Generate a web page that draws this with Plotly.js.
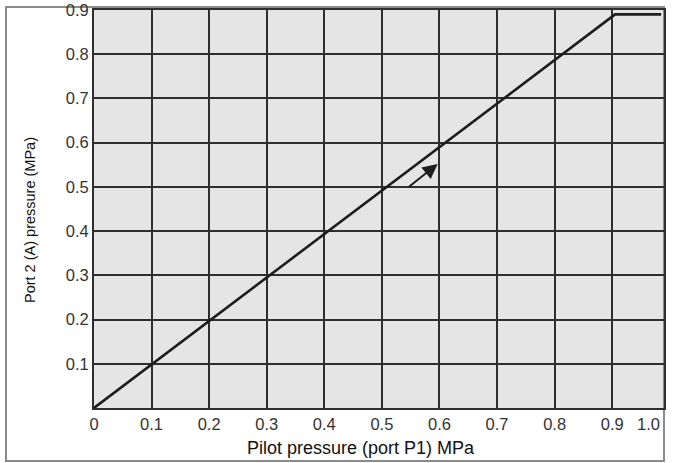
<!DOCTYPE html>
<html>
<head>
<meta charset="utf-8">
<script src="https://cdn.plot.ly/plotly-3.0.1.min.js"></script>
<style>html,body{margin:0;padding:0;background:#fff;}#chart{width:675px;height:463px;}</style>
</head>
<body>
<div id="chart"></div>
<script>
// Data
const pilotPressure = [0, 0.905, 0.985];      // MPa (port P1)
const port2Pressure = [0, 0.89, 0.89];        // MPa (port 2, A)
const arrowTail = [0.544, 0.497];
const arrowHead = [0.597, 0.552];
const xTickVals = [0, 0.1, 0.2, 0.3, 0.4, 0.5, 0.6, 0.7, 0.8, 0.9];
const xTickText = ['0', '0.1', '0.2', '0.3', '0.4', '0.5', '0.6', '0.7', '0.8', '0.9'];
const xEndLabel = '1.0';
const yTickVals = [0.1, 0.2, 0.3, 0.4, 0.5, 0.6, 0.7, 0.8, 0.9];
const yTickText = ['0.1', '0.2', '0.3', '0.4', '0.5', '0.6', '0.7', '0.8', '0.9'];
const xTitle = 'Pilot pressure (port P1) MPa';
const yTitle = 'Port 2 (A) pressure (MPa)';

const font = 'Liberation Sans, Arial, sans-serif';
const gridColor = '#2e2e2e';
const tickFont = {family: font, size: 16.5, color: '#333333'};

const trace = {
  x: pilotPressure, y: port2Pressure, type: 'scatter', mode: 'lines',
  line: {color: '#1e1e1e', width: 2.6}, hoverinfo: 'skip', showlegend: false
};

const layout = {
  width: 675, height: 463,
  margin: {l: 94, r: 11, t: 10, b: 55},
  paper_bgcolor: '#ffffff',
  plot_bgcolor: '#e5e5e5',
  font: {family: font, color: '#3a3a3a', size: 13},
  xaxis: {
    range: [0, 0.99], tickvals: xTickVals, ticktext: xTickText,
    showgrid: true, gridcolor: gridColor, gridwidth: 2,
    zeroline: false, showline: true, mirror: true, linecolor: gridColor, linewidth: 2,
    ticks: '', tickfont: tickFont, fixedrange: true
  },
  yaxis: {
    range: [0, 0.9], tickvals: yTickVals, ticktext: yTickText,
    showgrid: true, gridcolor: gridColor, gridwidth: 2,
    zeroline: false, showline: true, mirror: true, linecolor: gridColor, linewidth: 2,
    ticks: '', tickfont: tickFont, fixedrange: true
  },
  shapes: [{
    type: 'rect', xref: 'paper', yref: 'paper',
    x0: -0.1544, x1: 1.0, y0: -0.1332, y1: 1.0075,
    line: {color: '#8a8a8a', width: 2}, layer: 'below'
  }],
  annotations: [
    {x: arrowHead[0], y: arrowHead[1], ax: arrowTail[0], ay: arrowTail[1],
     xref: 'x', yref: 'y', axref: 'x', ayref: 'y', text: '', showarrow: true,
     arrowhead: 2, arrowsize: 1.5, arrowwidth: 2, arrowcolor: '#1e1e1e'},
    {x: 1.0, y: 0, xref: 'paper', yref: 'paper', xanchor: 'right', yanchor: 'top',
     xshift: -2, yshift: -5, text: xEndLabel, showarrow: false, font: tickFont},
    {x: (361 - 94) / 570, y: (408 - 448) / 398, xref: 'paper', yref: 'paper',
     xanchor: 'center', yanchor: 'middle', text: xTitle, showarrow: false,
     font: {family: font, size: 18, color: '#111'}},
    {x: (30 - 94) / 570, y: (408 - 220) / 398, xref: 'paper', yref: 'paper',
     xanchor: 'center', yanchor: 'middle', text: yTitle, textangle: -90, showarrow: false,
     font: {family: font, size: 14.5, color: '#111'}}
  ]
};

Plotly.newPlot('chart', [trace], layout, {displayModeBar: false, staticPlot: true});
</script>
</body>
</html>
